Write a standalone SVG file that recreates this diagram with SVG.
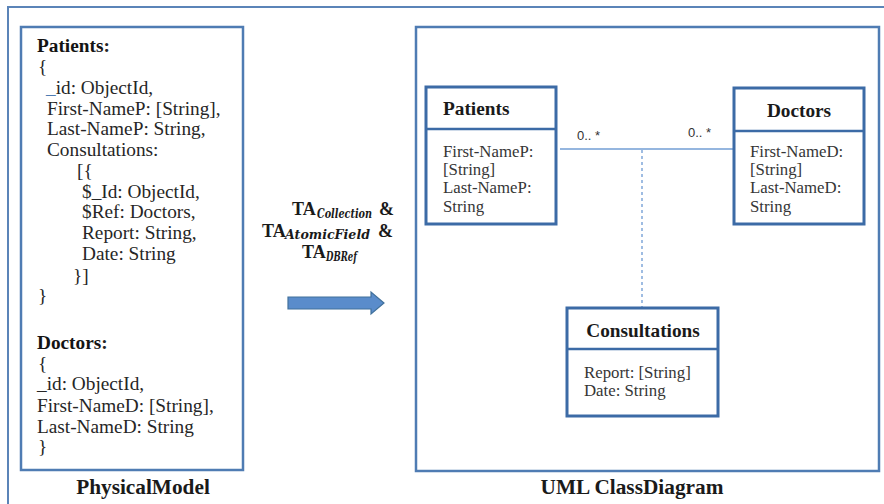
<svg xmlns="http://www.w3.org/2000/svg" width="884" height="504" viewBox="0 0 884 504">
  <defs>
    <style>
      .frame { fill: none; stroke: #5b84b8; stroke-width: 2; }
      .panel { fill: #ffffff; stroke: #4f7cb3; stroke-width: 2.5; }
      .cls { fill: #ffffff; stroke: #3c6ba6; stroke-width: 3; }
      .div { stroke: #3c6ba6; stroke-width: 2.5; }
      .code { font-family: "Liberation Serif", "Times New Roman", serif; font-size: 19.3px; fill: #262626; }
      .code-b { font-family: "Liberation Serif", "Times New Roman", serif; font-size: 19.3px; font-weight: bold; fill: #141414; }
      .link { fill: #4f7cb3; }
      .attr { font-family: "Liberation Serif", "Times New Roman", serif; font-size: 16.8px; fill: #363636; }
      .title { font-family: "Liberation Serif", "Times New Roman", serif; font-size: 19.3px; font-weight: bold; fill: #1a1a1a; }
      .caption { font-family: "Liberation Serif", "Times New Roman", serif; font-size: 21.3px; font-weight: bold; fill: #1a1a1a; }
      .ta { font-family: "Liberation Serif", "Times New Roman", serif; font-size: 18px; font-weight: bold; fill: #1a1a1a; }
      .sub { font-family: "DejaVu Serif", "Liberation Serif", serif; font-size: 12.5px; font-weight: bold; font-style: italic; }
      .mult { font-family: "Liberation Sans", Arial, sans-serif; font-size: 13px; fill: #333; }
      .assoc { stroke: #95b6df; stroke-width: 1.8; fill: none; }
      .assoc-dash { stroke: #95b6df; stroke-width: 1.8; fill: none; stroke-dasharray: 3 3; }
    </style>
  </defs>

  <rect width="884" height="504" fill="#ffffff"/>

  <!-- outer frame, running off the right and bottom edges -->
  <rect class="frame" x="8" y="7" width="900" height="520"/>

  <!-- physical model panel -->
  <g id="physical-model">
    <rect class="panel" x="21" y="27" width="222" height="443"/>
    <text class="code-b" x="37" y="52">Patients<tspan class="code">:</tspan></text>
    <text class="code" x="38" y="73">{</text>
    <text class="code" x="46" y="94"><tspan class="link">_</tspan>id: ObjectId,</text>
    <text class="code" x="47" y="115">First-NameP: [String],</text>
    <text class="code" x="47" y="135">Last-NameP: String,</text>
    <text class="code" x="47" y="156">Consultations:</text>
    <text class="code" x="77" y="177">[{</text>
    <text class="code" x="82" y="198">$_Id: ObjectId,</text>
    <text class="code" x="82" y="218">$Ref:  Doctors,</text>
    <text class="code" x="82" y="239">Report: String,</text>
    <text class="code" x="82" y="260">Date: String</text>
    <text class="code" x="73" y="282">}]</text>
    <text class="code" x="38" y="302">}</text>
    <text class="code-b" x="37" y="349">Doctors<tspan class="code">:</tspan></text>
    <text class="code" x="38" y="370">{</text>
    <text class="code" x="37" y="390">_id: ObjectId,</text>
    <text class="code" x="37" y="412">First-NameD: [String],</text>
    <text class="code" x="37" y="433">Last-NameD: String</text>
    <text class="code" x="38" y="453">}</text>
  </g>
  <text class="caption" x="143" y="494" text-anchor="middle">PhysicalModel</text>

  <!-- transformation rules -->
  <g id="transformation">
    <text class="ta" x="292" y="215">TA<tspan class="sub" x="317" dy="3" textLength="55" lengthAdjust="spacingAndGlyphs">Collection</tspan><tspan x="379" dy="-3">&amp;</tspan></text>
    <text class="ta" x="262" y="237">TA<tspan class="sub" x="285" dy="2" textLength="85" lengthAdjust="spacingAndGlyphs">AtomicField</tspan><tspan x="378" dy="-2">&amp;</tspan></text>
    <text class="ta" x="302" y="258">TA<tspan class="sub" x="326" dy="3" textLength="31" lengthAdjust="spacingAndGlyphs">DBRef</tspan></text>
    <path d="M288,297 L371,297 L371,292 L384,303 L371,314 L371,309 L288,309 Z" fill="#5a8ccb" stroke="#41719c" stroke-width="1.2"/>
  </g>

  <!-- UML class diagram panel -->
  <g id="uml-panel">
    <rect class="panel" x="416" y="27" width="463" height="444"/>
  </g>
  <text class="caption" x="632" y="494" text-anchor="middle">UML ClassDiagram</text>

  <!-- connectors -->
  <g id="connectors">
    <line class="assoc" x1="560" y1="149" x2="734" y2="149"/>
    <line class="assoc-dash" x1="642" y1="150" x2="642" y2="307"/>
    <text class="mult" x="577" y="140">0.. *</text>
    <text class="mult" x="688" y="137">0.. *</text>
  </g>

  <g id="patients">
    <rect class="cls" x="426" y="87" width="130" height="137"/>
    <line class="div" x1="426" y1="129" x2="556" y2="129"/>
    <text class="title" x="443" y="115">Patients</text>
    <text class="attr" x="443" y="157">First-NameP:</text>
    <text class="attr" x="443" y="175">[String]</text>
    <text class="attr" x="443" y="193">Last-NameP:</text>
    <text class="attr" x="443" y="212">String</text>
  </g>

  <g id="doctors">
    <rect class="cls" x="734" y="88" width="130" height="136"/>
    <line class="div" x1="734" y1="131" x2="864" y2="131"/>
    <text class="title" x="799" y="117" text-anchor="middle">Doctors</text>
    <text class="attr" x="750" y="157">First-NameD:</text>
    <text class="attr" x="750" y="175">[String]</text>
    <text class="attr" x="750" y="193">Last-NameD:</text>
    <text class="attr" x="750" y="212">String</text>
  </g>

  <g id="consultations">
    <rect class="cls" x="567" y="308" width="151" height="108"/>
    <line class="div" x1="567" y1="349" x2="718" y2="349"/>
    <text class="title" x="643" y="337" text-anchor="middle">Consultations</text>
    <text class="attr" x="584" y="378">Report: [String]</text>
    <text class="attr" x="584" y="396">Date: String</text>
  </g>
</svg>
